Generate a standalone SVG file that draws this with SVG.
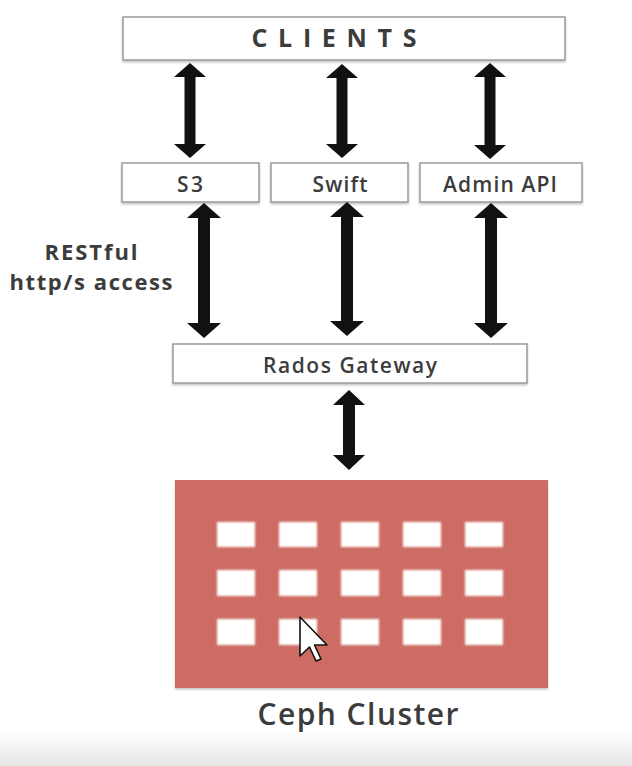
<svg xmlns="http://www.w3.org/2000/svg" width="632" height="766" viewBox="0 0 632 766">
  <defs>
    <linearGradient id="floor" x1="0" y1="0" x2="0" y2="1">
      <stop offset="0" stop-color="#ffffff"/>
      <stop offset="1" stop-color="#e6e6e6"/>
    </linearGradient>
    <filter id="sh" x="-5%" y="-20%" width="110%" height="150%">
      <feDropShadow dx="0" dy="1.5" stdDeviation="1.2" flood-color="#000" flood-opacity="0.25"/>
    </filter>
    <filter id="soft" x="-20%" y="-20%" width="140%" height="140%">
      <feGaussianBlur stdDeviation="0.8"/>
    </filter>
    <style>
      .box { fill: #ffffff; stroke: #9a9a9a; stroke-width: 1.5; filter: url(#sh); }
      .lbl { font-family: "Open Sans", "Liberation Sans", sans-serif; fill: #3c3c3c; text-anchor: middle; }
      .arrow { fill: #111111; }
      .cell { fill: #ffffff; filter: url(#soft); }
    </style>
  </defs>

  <rect x="0" y="0" width="632" height="766" fill="#ffffff"/>
  <rect x="0" y="730" width="632" height="36" fill="url(#floor)"/>

  <g id="clients">
    <rect class="box" x="123" y="17" width="442" height="43"/>
    <text class="lbl" x="334" y="47" font-size="25" font-weight="700" textLength="165" lengthAdjust="spacing">CLIENTS</text>
  </g>

  <g id="s3">
    <rect class="box" x="122" y="163" width="137" height="39"/>
    <text class="lbl" x="190" y="192" font-size="21" font-weight="600" textLength="26" lengthAdjust="spacing">S3</text>
  </g>
  <g id="swift">
    <rect class="box" x="271" y="163" width="137" height="39"/>
    <text class="lbl" x="340" y="192" font-size="21" font-weight="600" textLength="55" lengthAdjust="spacing">Swift</text>
  </g>
  <g id="admin-api">
    <rect class="box" x="420" y="163" width="162" height="39"/>
    <text class="lbl" x="500" y="192" font-size="21" font-weight="600" textLength="114" lengthAdjust="spacing">Admin API</text>
  </g>

  <g id="restful-label">
    <text class="lbl" x="91" y="260" font-size="22" font-weight="700" textLength="93" lengthAdjust="spacing">RESTful</text>
    <text class="lbl" x="91" y="290" font-size="22" font-weight="700" textLength="163" lengthAdjust="spacing">http/s access</text>
  </g>

  <g id="rados-gateway">
    <rect class="box" x="173" y="344" width="354" height="39"/>
    <text class="lbl" x="350" y="373" font-size="21" font-weight="600" textLength="174" lengthAdjust="spacing">Rados Gateway</text>
  </g>

  <g id="ceph-cluster">
    <rect x="175" y="480" width="373" height="208" fill="#cd6c64" filter="url(#sh)"/>
    <g>
      <rect class="cell" x="217" y="522" width="38" height="25"/>
      <rect class="cell" x="279" y="522" width="38" height="25"/>
      <rect class="cell" x="341" y="522" width="38" height="25"/>
      <rect class="cell" x="403" y="522" width="38" height="25"/>
      <rect class="cell" x="465" y="522" width="38" height="25"/>
      <rect class="cell" x="217" y="570" width="38" height="26"/>
      <rect class="cell" x="279" y="570" width="38" height="26"/>
      <rect class="cell" x="341" y="570" width="38" height="26"/>
      <rect class="cell" x="403" y="570" width="38" height="26"/>
      <rect class="cell" x="465" y="570" width="38" height="26"/>
      <rect class="cell" x="217" y="619" width="38" height="26"/>
      <rect class="cell" x="279" y="619" width="38" height="26"/>
      <rect class="cell" x="341" y="619" width="38" height="26"/>
      <rect class="cell" x="403" y="619" width="38" height="26"/>
      <rect class="cell" x="465" y="619" width="38" height="26"/>
    </g>
    <text class="lbl" x="358" y="725" font-size="30" font-weight="600" fill="#2e2e2e" textLength="201" lengthAdjust="spacing">Ceph Cluster</text>
  </g>

  <g id="connectors">
    <polygon class="arrow" points="190,63 206,77 195.5,77 195.5,144 206,144 190,158 174,144 184.5,144 184.5,77 174,77"/>
    <polygon class="arrow" points="342,64 358,78 347.5,78 347.5,144 358,144 342,158 326,144 336.5,144 336.5,78 326,78"/>
    <polygon class="arrow" points="490,63 506,77 495.5,77 495.5,145 506,145 490,159 474,145 484.5,145 484.5,77 474,77"/>
    <polygon class="arrow" points="204,203 221,218 210,218 210,323 221,323 204,338 187,323 198,323 198,218 187,218"/>
    <polygon class="arrow" points="347,202 364,217 353,217 353,321 364,321 347,336 330,321 341,321 341,217 330,217"/>
    <polygon class="arrow" points="491,203 508,218 497,218 497,323 508,323 491,338 474,323 485,323 485,218 474,218"/>
    <polygon class="arrow" points="349,390 365,405 355,405 355,455 365,455 349,470 333,455 343,455 343,405 333,405"/>
  </g>

  <g id="cursor">
    <polygon points="300,617 300,656 309.5,647 316,661 321,659 314.5,645 327,645" fill="#ffffff" stroke="#111111" stroke-width="1.6" stroke-linejoin="round"/>
  </g>
</svg>
